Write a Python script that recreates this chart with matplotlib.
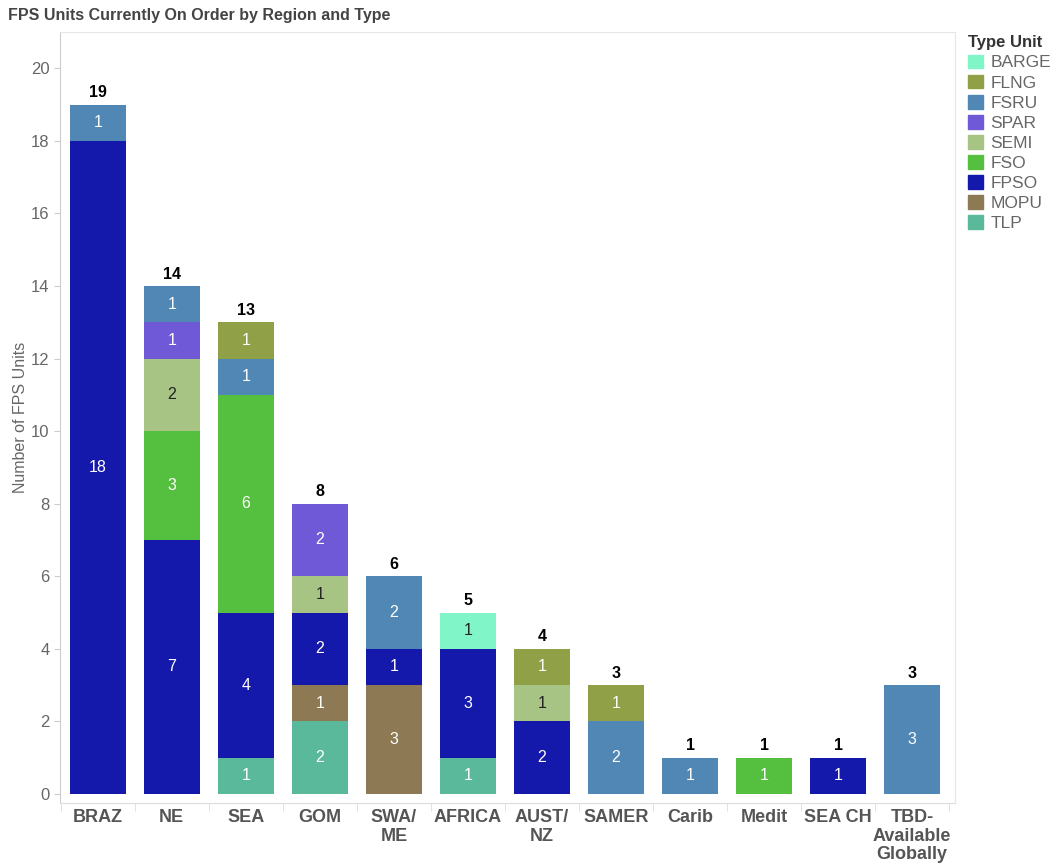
import matplotlib.pyplot as plt
import matplotlib.patches as mpatches
import numpy as np

plt.rcParams['font.family'] = ['Liberation Sans', 'DejaVu Sans']

regions = ["BRAZ", "NE", "SEA", "GOM", "SWA/\nME", "AFRICA", "AUST/\nNZ", "SAMER",
           "Carib", "Medit", "SEA CH", "TBD-\nAvailable\nGlobally"]

# stack order bottom -> top
types = ["TLP", "MOPU", "FPSO", "FSO", "SEMI", "SPAR", "FSRU", "FLNG", "BARGE"]
counts = {
    "TLP":   [0, 0, 1, 2, 0, 1, 0, 0, 0, 0, 0, 0],
    "MOPU":  [0, 0, 0, 1, 3, 0, 0, 0, 0, 0, 0, 0],
    "FPSO":  [18, 7, 4, 2, 1, 3, 2, 0, 0, 0, 1, 0],
    "FSO":   [0, 3, 6, 0, 0, 0, 0, 0, 0, 1, 0, 0],
    "SEMI":  [0, 2, 0, 1, 0, 0, 1, 0, 0, 0, 0, 0],
    "SPAR":  [0, 1, 0, 2, 0, 0, 0, 0, 0, 0, 0, 0],
    "FSRU":  [1, 1, 1, 0, 2, 0, 0, 2, 1, 0, 0, 3],
    "FLNG":  [0, 0, 1, 0, 0, 0, 1, 1, 0, 0, 0, 0],
    "BARGE": [0, 0, 0, 0, 0, 1, 0, 0, 0, 0, 0, 0],
}
colors = {
    "TLP": "#5bb99b", "MOPU": "#8d7a55", "FPSO": "#1519ab", "FSO": "#55bf40",
    "SEMI": "#a7c485", "SPAR": "#7059d6", "FSRU": "#5187b4", "FLNG": "#8fa046",
    "BARGE": "#80f5c8",
}
dark_text = {"SEMI", "BARGE"}

fig = plt.figure(figsize=(10.51, 8.63), dpi=100)
ax = fig.add_axes([0.0571, 0.0695, 0.8516, 0.8934])

x = np.arange(len(regions))
bottom = np.zeros(len(regions))
for t in types:
    vals = np.array(counts[t], dtype=float)
    ax.bar(x, vals, width=0.76, bottom=bottom, color=colors[t], edgecolor='none', zorder=2)
    for i, v in enumerate(vals):
        if v > 0:
            ax.text(x[i], bottom[i] + v / 2, "%d" % v, ha='center', va='center',
                    fontsize=11.5, color='#222222' if t in dark_text else 'white', zorder=3)
    bottom += vals

# totals above each bar
for i, tot in enumerate(bottom):
    ax.text(x[i], tot + 0.12, "%d" % tot, ha='center', va='bottom',
            fontsize=11.5, fontweight='bold', color='black')

ax.set_xlim(-0.51, 11.58)
ax.set_ylim(-0.25, 21.0)
ax.set_yticks(range(0, 21, 2))
ax.tick_params(axis='y', labelsize=12, labelcolor='#666666', color='#cccccc', length=4)
ax.set_xticks(x)
ax.set_xticklabels(regions, fontsize=13, fontweight='bold', color='#555555', linespacing=1.15)
ax.tick_params(axis='x', length=0, pad=4)
ax.set_xticks(np.arange(-0.5, 12, 1), minor=True)
ax.tick_params(axis='x', which='minor', length=6, color='#dddddd')

for s in ax.spines.values():
    s.set_color('#e6e6e6')
ax.spines['left'].set_color('#cccccc')
ax.spines['bottom'].set_color('#dddddd')

ax.set_ylabel("Number of FPS Units", fontsize=11.5, color='#666666', labelpad=2)

fig.text(0.008, 0.982, "FPS Units Currently On Order by Region and Type",
         fontsize=11.5, fontweight='bold', color='#444444', ha='left', va='center')

handles = [mpatches.Patch(color=colors[t], label=t) for t in types[::-1]]
leg = fig.legend(handles=handles, loc='upper left', bbox_to_anchor=(0.921, 0.959),
                 frameon=False, title="Type Unit", fontsize=12.5,
                 handlelength=0.85, handleheight=0.85, handletextpad=0.45,
                 labelspacing=0.24, borderaxespad=0, borderpad=0)
leg.get_title().set_fontweight('bold')
leg.get_title().set_fontsize(12)
leg.get_title().set_color('#333333')
leg._legend_box.align = 'left'
for txt in leg.get_texts():
    txt.set_color('#666666')

fig.savefig("out.png", dpi=100)
